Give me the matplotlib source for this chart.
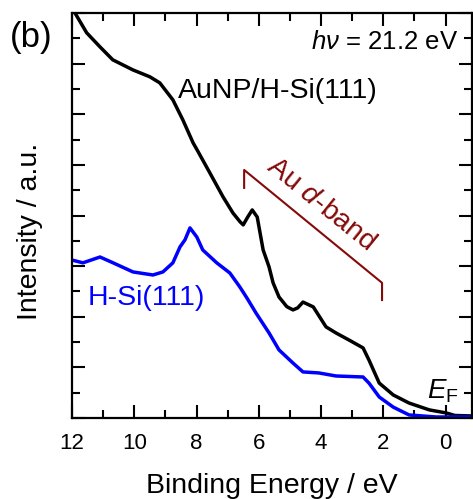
import matplotlib
matplotlib.use("Agg")
import matplotlib.pyplot as plt
from matplotlib.ticker import MultipleLocator

plt.rcParams['font.family'] = ['Liberation Sans', 'DejaVu Sans']
plt.rcParams['mathtext.fontset'] = 'custom'
plt.rcParams['mathtext.rm'] = 'Liberation Sans'
plt.rcParams['mathtext.it'] = 'Liberation Sans:italic'

# AuNP/H-Si(111) spectrum (binding energy / eV, intensity a.u.)
au_be = [12.0, 11.53, 11.10, 10.69, 10.04, 9.50, 9.18, 8.76, 8.44, 8.11, 7.98,
         7.57, 7.15, 6.83, 6.60, 6.50, 6.35, 6.21, 6.05, 5.86, 5.67, 5.54, 5.35,
         5.10, 4.90, 4.75, 4.58, 4.25, 3.84, 3.52, 3.10, 2.65, 2.46, 2.13, 1.68,
         1.17, 0.52, -0.02, -0.30, -0.85]
au_int = [16.2, 15.22, 14.66, 14.15, 13.75, 13.48, 13.24, 12.57, 11.78, 10.87, 10.59,
          9.68, 8.74, 8.10, 7.75, 7.63, 7.95, 8.22, 7.94, 6.64, 5.97, 5.34, 4.78,
          4.40, 4.27, 4.35, 4.58, 4.39, 3.60, 3.36, 3.08, 2.77, 2.29, 1.38, 0.91,
          0.59, 0.32, 0.20, 0.10, 0.08]

# H-Si(111) spectrum
si_be = [12.0, 11.65, 11.10, 10.68, 10.04, 9.40, 9.08, 8.76, 8.53, 8.37, 8.21,
         7.99, 7.80, 7.35, 6.93, 6.61, 6.38, 6.09, 5.67, 5.35, 4.90, 4.58, 4.07,
         3.52, 2.65, 2.46, 2.13, 1.68, 1.17, 0.30, -0.85]
si_int = [6.24, 6.13, 6.36, 6.13, 5.77, 5.65, 5.77, 6.13, 6.76, 7.04, 7.51,
          7.15, 6.64, 6.13, 5.73, 5.18, 4.74, 4.15, 3.36, 2.69, 2.17, 1.82, 1.78,
          1.66, 1.62, 1.38, 0.83, 0.43, 0.12, 0.04, 0.04]

# d-band bracket
band_x = [6.47, 6.47, 2.04, 2.04]
band_y = [9.09, 9.80, 5.34, 4.66]

dark_red = '#850a0a'

fig = plt.figure(figsize=(4.73, 4.99), dpi=100)
ax = fig.add_axes([72 / 473, 1 - 418 / 499, 400 / 473, 405 / 499])

ax.plot(au_be, au_int, color='black', lw=2.5)
ax.plot(si_be, si_int, color='#0000ff', lw=2.5)
ax.plot(band_x, band_y, color=dark_red, lw=1.5)

ax.set_xlim(12, -0.85)
ax.set_ylim(0, 16)
ax.xaxis.set_major_locator(MultipleLocator(2))
ax.xaxis.set_minor_locator(MultipleLocator(1))
ax.yaxis.set_major_locator(MultipleLocator(2))
ax.yaxis.set_minor_locator(MultipleLocator(1))
ax.tick_params(which='both', direction='in', top=True, right=True, width=1.5,
               labelsize=16)
ax.tick_params(which='major', length=9.5)
ax.tick_params(which='minor', length=5.5)
ax.tick_params(axis='x', pad=11)
ax.tick_params(axis='y', labelleft=False)
for s in ax.spines.values():
    s.set_linewidth(1.6)

ax.set_xlabel('Binding Energy / eV', fontsize=20.5)
ax.xaxis.set_label_coords(0.5, -0.135)
ax.set_ylabel('Intensity / a.u.', fontsize=20.5)
ax.yaxis.set_label_coords(-0.072, 0.46)

fig.text(31 / 473, 1 - 38 / 499, '(b)', fontsize=25, ha='center', va='center')
ax.text((458 - 72) / 400, 1 - (42 - 13) / 405, r'$h\nu$ = 21.2 eV',
        transform=ax.transAxes, fontsize=18.5, ha='right', va='center')
ax.text(8.6, 12.9, 'AuNP/H-Si(111)', fontsize=20.5, ha='left', va='center')
ax.text(11.5, 4.75, 'H-Si(111)', fontsize=20.5, color='#0000ff', ha='left', va='center')
ax.text(0.08, 1.05, r'$E_\mathrm{F}$', fontsize=20, ha='center', va='center')
ax.text(4.0, 8.45, r'Au $d$-band', fontsize=20.5, color=dark_red, rotation=-39,
        ha='center', va='center', rotation_mode='anchor')

fig.savefig('out.png', dpi=100)
